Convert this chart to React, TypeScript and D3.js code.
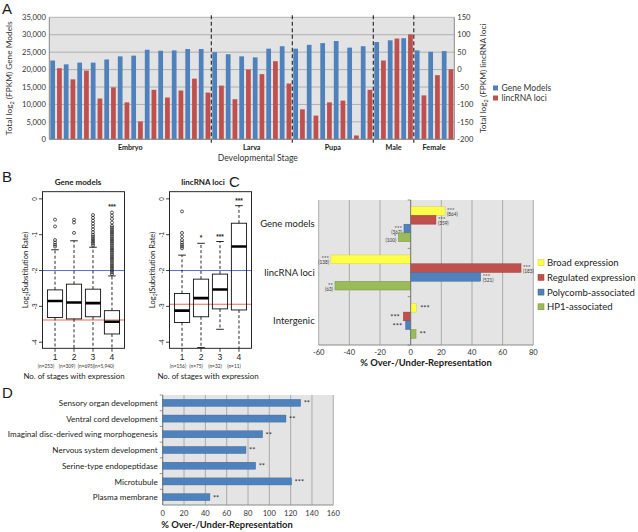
import * as d3 from "d3";
import { useEffect, useRef } from "react";

const W = 638;
const H = 532;
const SANS = "Lato, 'Open Sans', sans-serif";
const RFONT = "'Liberation Sans', Arial, sans-serif";

// ---- panel A: expression totals per sample
const stageNames = ["Embryo", "Larva", "Pupa", "Male", "Female"];
const stageSizes = [12, 6, 6, 3, 3];
const geneTotals = [
  22600, 21500, 22000, 22000, 22900, 23800, 24000, 25700, 25400, 25500, 25900, 25900,
  25000, 24400, 23800, 23500, 26000, 26700,
  26000, 27100, 27600, 28200, 26300, 26700,
  27900, 28400, 29000,
  25500, 25100, 25300,
];
const lincTotals = [
  4, -28, -3, -83, -51, -94, -149, -58, -80, -60, -26, -66,
  -46, -85, 0, -13, 24, -40,
  -114, -132, -94, -89, -189, -58,
  26, 89, 101,
  -74, -16, 1,
];
const leftTicks = [0, 5000, 10000, 15000, 20000, 25000, 30000, 35000];
const rightTicks = [-200, -150, -100, -50, 0, 50, 100, 150];

// ---- panel B: substitution rate boxplots
const stageTicks = [1, 2, 3, 4];
const rateTicks = [0, -1, -2, -3, -4];
const geneQ3 = [-2.54, -2.38, -2.52, -3.12];
const geneMed = [-2.85, -2.89, -2.91, -3.43];
const geneQ1 = [-3.31, -3.35, -3.29, -3.77];
const geneHi = [-1.42, -1.17, -1.35, -2.15];
const geneLo = [-4.6, -4.6, -4.6, -4.6];
const geneOut = [
  [-0.58, -0.77, -1.15, -1.22, -1.28, -1.33],
  [-0.58, -0.66, -0.95],
  [-0.45, -0.53, -0.61, -0.69, -0.77, -0.85, -0.93, -1.0, -1.05, -1.1, -1.15, -1.2, -1.25, -1.3],
  [
    -0.38, -0.47, -0.56, -0.66, -0.75, -0.8, -0.85, -0.9, -0.95, -1.0, -1.05, -1.1, -1.15, -1.2,
    -1.25, -1.3, -1.35, -1.4, -1.45, -1.5, -1.55, -1.6, -1.65, -1.7, -1.75, -1.8, -1.85, -1.9,
    -1.95, -2.0, -2.05, -2.1,
  ],
];
const geneStars = ["", "", "", "***"];
const geneStarAt = [0, 0, 0, -0.22];
const geneN = ["(n=253)", "(n=309)", "(n=695)", "(n=5,940)"];
const geneRed = -3.38;

const lincQ3 = [-2.64, -2.24, -2.1, -0.68];
const lincMed = [-3.12, -2.77, -2.53, -1.33];
const lincQ1 = [-3.45, -3.29, -3.07, -3.1];
const lincHi = [-1.57, -1.24, -1.19, -0.19];
const lincLo = [-4.6, -4.15, -3.64, -4.6];
const lincOut = [[-0.35, -0.95, -1.05, -1.15, -1.22, -1.28, -1.33, -1.38], [], [], []];
const lincStars = ["", "*", "***", "***"];
const lincStarAt = [0, -1.08, -1.05, -0.05];
const lincN = ["(n=156)", "(n=75)", "(n=32)", "(n=11)"];
const lincRed = -2.94;

// ---- panel C: over/under representation by class
const regionNames = ["Gene models", "lincRNA loci", "Intergenic"];
const classNames = ["Broad expression", "Regulated expression", "Polycomb-associated", "HP1-associated"];
const classColors = ["#ffff4a", "#c0504d", "#4f81bd", "#9bbb59"];
const classBorders = ["#c8c83a", "#8c3836", "#3a5f8c", "#71893f"];
const broadPct = [22.4, -52, 3.9];
const regulatedPct = [16.5, 72, -4.8];
const polycombPct = [-4.4, 45.7, -3.3];
const hp1Pct = [-8.1, -49.4, 3.5];
const broadStars = ["***", "***", "***"];
const regulatedStars = ["***", "***", "***"];
const polycombStars = ["***", "***", "***"];
const hp1Stars = ["*", "**", "**"];
const broadCounts = ["(864)", "(138)", ""];
const regulatedCounts = ["(359)", "(183)", ""];
const polycombCounts = ["(367)", "(521)", ""];
const hp1Counts = ["(100)", "(63)", ""];
const pctTicksC = [-60, -40, -20, 0, 20, 40, 60, 80];

// ---- panel D: GO term enrichment
const goTerms = [
  "Sensory organ development",
  "Ventral cord development",
  "Imaginal disc-derived wing morphogenesis",
  "Nervous system development",
  "Serine-type endopeptidase",
  "Microtubule",
  "Plasma membrane",
];
const goPct = [129.4, 115.6, 93.7, 78.1, 87.2, 120.9, 44.3];
const goStars = ["**", "**", "**", "**", "**", "***", "**"];
const pctTicksD = [0, 20, 40, 60, 80, 100, 120, 140, 160];

type G = d3.Selection<any, unknown, null, undefined>;

function label(g: G, x: number, y: number, s: string, size: number, anchor = "middle", font = SANS, weight = "normal") {
  return g
    .append("text")
    .attr("x", x)
    .attr("y", y)
    .attr("font-family", font)
    .attr("font-size", size)
    .attr("font-weight", weight)
    .attr("text-anchor", anchor)
    .attr("fill", "#1a1a1a")
    .text(s);
}

function drawA(svg: G) {
  const a = { l: 49.3, r: 454.3, t: 17.3, b: 139.3 };
  const g = svg.append("g");
  const x0 = d3
    .scaleBand<number>()
    .domain(geneTotals.map((_, i) => i))
    .range([a.l, a.r])
    .paddingInner(0.15)
    .paddingOuter(0.075);
  const x1 = d3.scaleBand<string>().domain(["g", "l"]).range([0, x0.bandwidth()]).paddingInner(0.3);
  const yL = d3.scaleLinear().domain([0, 35000]).range([a.b, a.t]);
  const yR = d3.scaleLinear().domain([-200, 150]).range([a.b, a.t]);

  g.append("rect").attr("x", a.l).attr("y", a.t).attr("width", a.r - a.l).attr("height", a.b - a.t).attr("fill", "#e3e3e3");
  g.selectAll("line.grid")
    .data(leftTicks)
    .join("line")
    .attr("x1", a.l)
    .attr("x2", a.r)
    .attr("y1", (d) => yL(d))
    .attr("y2", (d) => yL(d))
    .attr("stroke", "#a3a3a3")
    .attr("stroke-width", 0.8);

  g.selectAll("rect.gm")
    .data(geneTotals)
    .join("rect")
    .attr("x", (_, i) => x0(i)! + x1("g")!)
    .attr("y", (d) => yL(d))
    .attr("width", x1.bandwidth())
    .attr("height", (d) => a.b - yL(d))
    .attr("fill", "#4f81bd");
  g.selectAll("rect.lc")
    .data(lincTotals)
    .join("rect")
    .attr("x", (_, i) => x0(i)! + x1("l")!)
    .attr("y", (d) => yR(d))
    .attr("width", x1.bandwidth())
    .attr("height", (d) => a.b - yR(d))
    .attr("fill", "#c0504d");

  const step = x0.step();
  const ends = d3.cumsum(stageSizes);
  ends.slice(0, -1).forEach((e) => {
    g.append("line")
      .attr("x1", a.l + e * step)
      .attr("x2", a.l + e * step)
      .attr("y1", a.t - 2)
      .attr("y2", a.b + 5)
      .attr("stroke", "#222")
      .attr("stroke-width", 1.1)
      .attr("stroke-dasharray", "4,2.5");
  });
  stageNames.forEach((s, i) => {
    const start = i === 0 ? 0 : ends[i - 1];
    label(g, a.l + (start + stageSizes[i] / 2) * step, 149.5, s, 7.2, "middle", SANS, "bold");
  });

  g.append("line").attr("x1", a.l).attr("x2", a.r).attr("y1", a.b).attr("y2", a.b).attr("stroke", "#888");
  g.append("line").attr("x1", a.l).attr("x2", a.l).attr("y1", a.t).attr("y2", a.b).attr("stroke", "#888");
  g.append("line").attr("x1", a.r).attr("x2", a.r).attr("y1", a.t).attr("y2", a.b).attr("stroke", "#888");

  leftTicks.forEach((t) => label(g, a.l - 3.5, yL(t) + 2.7, d3.format(",")(t), 7.6, "end").attr("fill", "#333"));
  rightTicks.forEach((t) => label(g, a.r + 3, yR(t) + 2.7, String(t), 7.6, "start").attr("fill", "#333"));

  const lt = g.append("text").attr("transform", `translate(12,${(a.t + a.b) / 2}) rotate(-90)`)
    .attr("font-family", SANS).attr("font-size", 8.3).attr("text-anchor", "middle").attr("fill", "#333");
  lt.append("tspan").text("Total log");
  lt.append("tspan").attr("font-size", 5.5).attr("dy", 2).text("2");
  lt.append("tspan").attr("dy", -2).text(" (FPKM) Gene Models");

  const rt = g.append("text").attr("transform", `translate(486,${(a.t + a.b) / 2}) rotate(-90)`)
    .attr("font-family", SANS).attr("font-size", 8.3).attr("text-anchor", "middle").attr("fill", "#333");
  rt.append("tspan").text("Total log");
  rt.append("tspan").attr("font-size", 5.5).attr("dy", 2).text("2");
  rt.append("tspan").attr("dy", -2).text(" (FPKM) lincRNA loci");

  label(g, (a.l + a.r) / 2 + 6, 160.5, "Developmental Stage", 8.6).attr("fill", "#333");

  [["Gene Models", "#4f81bd"], ["lincRNA loci", "#c0504d"]].forEach(([s, c], i) => {
    g.append("rect").attr("x", 493).attr("y", 85.5 + i * 10).attr("width", 5).attr("height", 5).attr("fill", c);
    label(g, 501.5, 91.2 + i * 10, s, 8.5, "start").attr("fill", "#333");
  });

  label(g, 2, 14, "A", 15, "start", RFONT);
}

function drawBox(
  svg: G,
  left: number,
  title: string,
  titleX: number,
  q3: number[],
  med: number[],
  q1: number[],
  hi: number[],
  lo: number[],
  out: number[][],
  stars: string[],
  starAt: number[],
  nLabels: string[],
  nShift: number[],
  footX: number,
  red: number,
  clipId: string,
) {
  const right = left + 82;
  const top = 191.7;
  const bottom = 348.3;
  const x = d3.scaleLinear().domain([0.34, 4.66]).range([left, right]);
  const y = d3.scaleLinear().domain([-4.17, 0.2]).range([bottom, top]);
  const g = svg.append("g");
  g.append("clipPath").attr("id", clipId).append("rect").attr("x", left).attr("y", top).attr("width", right - left).attr("height", bottom - top);
  const inner = g.append("g").attr("clip-path", `url(#${clipId})`);

  inner.append("line").attr("x1", left).attr("x2", right).attr("y1", y(-2)).attr("y2", y(-2)).attr("stroke", "#5a6fd0").attr("stroke-width", 1);
  inner.append("line").attr("x1", left).attr("x2", right).attr("y1", y(red)).attr("y2", y(red)).attr("stroke", "#ee6a5c").attr("stroke-width", 1.1);

  const hw = 0.4;
  stageTicks.forEach((s, i) => {
    const cx = x(s);
    inner.append("line").attr("x1", cx).attr("x2", cx).attr("y1", y(q3[i])).attr("y2", y(hi[i]))
      .attr("stroke", "#111").attr("stroke-width", 0.9).attr("stroke-dasharray", "3,2.2");
    inner.append("line").attr("x1", cx).attr("x2", cx).attr("y1", y(q1[i])).attr("y2", y(lo[i]))
      .attr("stroke", "#111").attr("stroke-width", 0.9).attr("stroke-dasharray", "3,2.2");
    [hi[i], lo[i]].forEach((v) => {
      inner.append("line").attr("x1", x(s - hw / 2)).attr("x2", x(s + hw / 2)).attr("y1", y(v)).attr("y2", y(v))
        .attr("stroke", "#111").attr("stroke-width", 0.9);
    });
    inner.append("rect").attr("x", x(s - hw)).attr("y", y(q3[i])).attr("width", x(s + hw) - x(s - hw))
      .attr("height", y(q1[i]) - y(q3[i])).attr("fill", "none").attr("stroke", "#111").attr("stroke-width", 0.9);
    inner.append("line").attr("x1", x(s - hw)).attr("x2", x(s + hw)).attr("y1", y(med[i])).attr("y2", y(med[i]))
      .attr("stroke", "#000").attr("stroke-width", 2.6);
    inner.selectAll(`circle.o${i}`).data(out[i]).join("circle")
      .attr("cx", cx).attr("cy", (d) => y(d)).attr("r", 1.5)
      .attr("fill", "none").attr("stroke", "#111").attr("stroke-width", 0.7);
    if (stars[i]) label(inner, cx, y(starAt[i]) + 2.5, stars[i], 6.5, "middle", RFONT, "bold");
  });

  g.append("rect").attr("x", left).attr("y", top).attr("width", right - left).attr("height", bottom - top)
    .attr("fill", "none").attr("stroke", "#111").attr("stroke-width", 0.9);

  rateTicks.forEach((t) => {
    g.append("line").attr("x1", left - 3.5).attr("x2", left).attr("y1", y(t)).attr("y2", y(t)).attr("stroke", "#111").attr("stroke-width", 0.8);
    g.append("text").attr("transform", `translate(${left - 6},${y(t)}) rotate(-90)`)
      .attr("font-family", RFONT).attr("font-size", 6.5).attr("text-anchor", "middle").attr("fill", "#222").text(String(t));
  });
  stageTicks.forEach((s, i) => {
    g.append("line").attr("x1", x(s)).attr("x2", x(s)).attr("y1", bottom).attr("y2", bottom + 3.5).attr("stroke", "#111").attr("stroke-width", 0.8);
    label(g, x(s), bottom + 12, String(s), 8.5, "middle", RFONT);
    label(g, x(s) + nShift[i], 368, nLabels[i], 4.8, "middle", SANS).attr("fill", "#333");
  });

  const yt = g.append("text").attr("transform", `translate(${left - 15},${(top + bottom) / 2}) rotate(-90)`)
    .attr("font-family", SANS).attr("font-size", 7.6).attr("text-anchor", "middle").attr("fill", "#222");
  yt.append("tspan").text("Log");
  yt.append("tspan").attr("font-size", 5).attr("dy", 2).text("2");
  yt.append("tspan").attr("dy", -2).text("(Substitution Rate)");

  label(g, titleX, 185, title, 8, "middle", SANS, "bold");
  label(g, footX, 378.5, "No. of stages with expression", 7.9, "middle", SANS).attr("fill", "#222");
}

function drawC(svg: G) {
  const c = { l: 318.7, r: 533.3, t: 200, b: 345 };
  const g = svg.append("g");
  const x = d3.scaleLinear().domain([-60, 80]).range([c.l, c.r]);
  const y = d3.scaleBand<string>().domain(regionNames).range([c.t, c.b]).paddingInner(0.275).paddingOuter(0.1375);
  const ys = d3.scaleBand<string>().domain(classNames).range([0, y.bandwidth()]);

  g.append("rect").attr("x", c.l).attr("y", c.t).attr("width", c.r - c.l).attr("height", c.b - c.t).attr("fill", "#e4e4e4");
  pctTicksC.forEach((t) => {
    g.append("line").attr("x1", x(t)).attr("x2", x(t)).attr("y1", c.t).attr("y2", c.b).attr("stroke", "#9c9c9c").attr("stroke-width", 0.8);
    label(g, x(t), c.b + 9.8, String(t), 7.6).attr("fill", "#333");
  });
  g.append("line").attr("x1", c.l).attr("x2", c.r).attr("y1", c.b).attr("y2", c.b).attr("stroke", "#8a8a8a");

  const series = [broadPct, regulatedPct, polycombPct, hp1Pct];
  const starSets = [broadStars, regulatedStars, polycombStars, hp1Stars];
  const countSets = [broadCounts, regulatedCounts, polycombCounts, hp1Counts];
  series.forEach((vals, k) => {
    vals.forEach((v, i) => {
      const by = y(regionNames[i])! + ys(classNames[k])!;
      const bh = ys.bandwidth();
      g.append("rect")
        .attr("x", Math.min(x(0), x(v)))
        .attr("y", by)
        .attr("width", Math.abs(x(v) - x(0)))
        .attr("height", bh)
        .attr("fill", classColors[k])
        .attr("stroke", classBorders[k])
        .attr("stroke-width", 0.4);
      const pos = v >= 0;
      const tx = pos ? x(v) + 2 : x(v) - 2;
      const anchor = pos ? "start" : "end";
      const cnt = countSets[k][i];
      if (cnt) {
        label(g, tx, by + bh / 2 + 1, starSets[k][i], 5.8, anchor).attr("fill", "#333");
        label(g, tx, by + bh / 2 + 5, cnt, 4.7, anchor).attr("fill", "#333");
      } else {
        label(g, tx + (pos ? 1.5 : -1.5), by + bh / 2 + 3.4, starSets[k][i], 7.5, anchor).attr("fill", "#333");
      }
    });
  });

  g.append("line").attr("x1", x(0)).attr("x2", x(0)).attr("y1", c.t).attr("y2", c.b).attr("stroke", "#777").attr("stroke-width", 0.9);
  [c.t, c.t + y.step(), c.t + 2 * y.step(), c.b].forEach((ty) => {
    g.append("line").attr("x1", x(0) - 3).attr("x2", x(0)).attr("y1", ty).attr("y2", ty).attr("stroke", "#777").attr("stroke-width", 0.8);
  });
  regionNames.forEach((r) => label(g, c.l - 4, y(r)! + y.bandwidth() / 2 + 3.3, r, 9.5, "end").attr("fill", "#222"));

  label(g, (c.l + c.r) / 2, c.b + 20.5, "% Over-/Under-Representation", 9.4, "middle", SANS, "bold");

  classNames.forEach((s, i) => {
    const ly = 262.7 + i * 14.7;
    g.append("rect").attr("x", 538).attr("y", ly - 3).attr("width", 6).attr("height", 6)
      .attr("fill", classColors[i]).attr("stroke", classBorders[i]).attr("stroke-width", 0.5);
    label(g, 547, ly + 3.4, s, 9.5, "start").attr("fill", "#222");
  });

  label(g, 229, 187, "C", 15, "start", RFONT);
}

function drawD(svg: G) {
  const d = { l: 162.7, r: 333.3, t: 395, b: 505 };
  const g = svg.append("g");
  const x = d3.scaleLinear().domain([0, 160]).range([d.l, d.r]);
  const y = d3.scaleBand<string>().domain(goTerms).range([d.t, d.b]).paddingInner(0.55).paddingOuter(0.275);

  g.append("rect").attr("x", d.l).attr("y", d.t).attr("width", d.r - d.l).attr("height", d.b - d.t).attr("fill", "#e4e4e4");
  pctTicksD.forEach((t) => {
    g.append("line").attr("x1", x(t)).attr("x2", x(t)).attr("y1", d.t).attr("y2", d.b).attr("stroke", "#9c9c9c").attr("stroke-width", 0.8);
    label(g, x(t), d.b + 10.5, String(t), 7.6).attr("fill", "#333");
  });
  g.append("line").attr("x1", d.l).attr("x2", d.r).attr("y1", d.b).attr("y2", d.b).attr("stroke", "#8a8a8a");
  g.append("line").attr("x1", d.l).attr("x2", d.l).attr("y1", d.t).attr("y2", d.b).attr("stroke", "#777").attr("stroke-width", 0.9);
  goTerms.forEach((_, i) => {
    const ty = d.t + i * y.step();
    g.append("line").attr("x1", d.l - 3).attr("x2", d.l).attr("y1", ty).attr("y2", ty).attr("stroke", "#777").attr("stroke-width", 0.8);
  });

  g.selectAll("rect.go").data(goPct).join("rect")
    .attr("x", x(0))
    .attr("y", (_, i) => y(goTerms[i])!)
    .attr("width", (v) => x(v) - x(0))
    .attr("height", y.bandwidth())
    .attr("fill", "#4f81bd")
    .attr("stroke", "#3d6699")
    .attr("stroke-width", 0.4);
  goPct.forEach((v, i) => {
    label(g, x(v) + 3, y(goTerms[i])! + y.bandwidth() / 2 + 3.4, goStars[i], 7.5, "start").attr("fill", "#333");
    label(g, d.l - 5, y(goTerms[i])! + y.bandwidth() / 2 + 3.2, goTerms[i], 8.1, "end").attr("fill", "#222");
  });

  label(g, 227, 527.5, "% Over-/Under-Representation", 9.4, "middle", SANS, "bold");
  label(g, 2, 398, "D", 15, "start", RFONT);
}

export default function App() {
  const ref = useRef<SVGSVGElement | null>(null);

  useEffect(() => {
    const el = ref.current;
    if (!el) return;
    const svg = d3.select(el) as G;
    svg.selectAll("*").remove();
    svg.append("rect").attr("width", W).attr("height", H).attr("fill", "#fff");

    drawA(svg);
    drawBox(svg, 42.5, "Gene models", 78, geneQ3, geneMed, geneQ1, geneHi, geneLo, geneOut,
      geneStars, geneStarAt, geneN, [-9, -7, -7, -8], 74, geneRed, "clipGene");
    drawBox(svg, 169.5, "lincRNA loci", 203, lincQ3, lincMed, lincQ1, lincHi, lincLo, lincOut,
      lincStars, lincStarAt, lincN, [-4, -5, -5, -5], 208, lincRed, "clipLinc");
    label(svg, 2, 182, "B", 15, "start", RFONT);
    drawC(svg);
    drawD(svg);
  }, []);

  return <svg ref={ref} width={W} height={H} style={{ position: "absolute", left: 0, top: 0 }} />;
}
